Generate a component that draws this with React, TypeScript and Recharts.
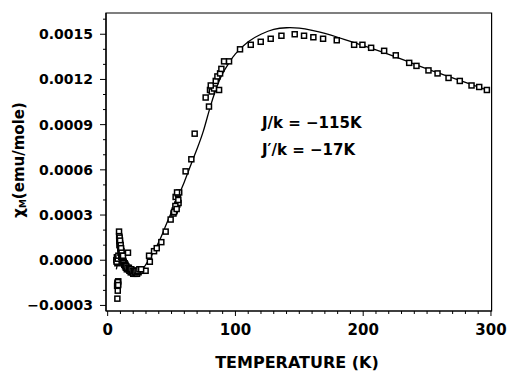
import {
  ComposedChart,
  Line,
  Scatter,
  XAxis,
  YAxis,
  ReferenceArea,
} from "recharts";

// measured susceptibility (open squares)
const MEASURED_T = [
  7.6, 7.9, 7.8, 8.1, 8.3, 7.4, 7.7, 8.0, 8.2, 6.8, 7.2, 7.6, 7.0, 7.9, 8.4,
  8.9, 9.0, 9.3, 9.5, 9.2, 9.8, 10.1, 10.4, 10.0, 10.8, 11.1, 10.6, 11.5, 11.9,
  9.1, 9.4, 9.7, 9.9, 10.2, 10.5, 10.9, 11.3, 11.7, 12.1, 12.6, 13.3, 14.0,
  12.3, 12.0, 13.0, 13.6, 14.2, 15.0, 15.9, 16.2, 17.0, 18.0, 19.0, 20.0, 21.0,
  22.0, 23.0, 24.2, 25.5, 27.0, 29.7,
  14.6, 15.5, 16.6, 17.5, 18.5, 19.5, 20.5, 21.5, 22.5, 23.5, 24.8, 26.2,
  33.0, 32.4, 36.3, 38.4, 42.0, 45.4, 49.3,
  51.5, 52.5, 53.5, 54.5, 55.5, 53.2, 55.0, 56.0, 54.3, 52.0, 53.0, 54.0, 55.3,
  61.0, 65.5, 68.1, 76.7, 79.3, 80.1, 81.5, 83.3, 87.2, 80.7, 84.6, 85.9, 88.0,
  89.0, 91.1, 95.0, 103.6, 112.0, 119.8, 127.6, 136.0, 146.4, 153.7, 161.0,
  168.6, 179.3, 192.9, 199.4, 206.2, 216.4, 225.5, 236.0, 241.7, 251.1, 258.2,
  266.8, 275.6, 284.8, 290.8, 296.8,
];
const MEASURED_CHI = [
  -0.000255, -0.000202, -0.00015, -0.00016, -0.00014, -0.00017, -0.000155, -0.000145, -0.000165, 0.0, 0.00002, -0.00002, -0.00001, 0.00001, 0.00003,
  0.00019, 0.00016, 0.00014, 0.00012, 0.0001, 0.00011, 0.00009, 0.00007, 0.00005, 0.00006, 0.00004, 0.00002, 0.00002, 0.0,
  0.00013, 0.00015, 0.00013, 0.00008, 0.0001, 0.00008, 0.00005, 0.00003, 0.00001, -0.00001, -0.00001, -0.00002, -0.00003,
  -0.00002, 0.00003, -0.00003, -0.00004, -0.00005, -0.00006, 0.00005, -0.00006, -0.00007, -0.00008, -0.00008, -0.00009, -0.00009,
  -0.00009, -0.00009, -0.00008, -0.00007, -0.00007, -0.00007,
  -0.00004, -0.00005, -0.00005, -0.00006, -0.00006, -0.00007, -0.00007, -0.00008, -0.00007, -0.00007, -0.00006, -0.00006,
  -0.00001, 0.00003, 0.00006, 0.00008, 0.00012, 0.00019, 0.00027,
  0.00031, 0.00033, 0.00035, 0.00037, 0.00038, 0.00042, 0.00044, 0.00045, 0.00045, 0.00032, 0.00036, 0.00034, 0.0004,
  0.00059, 0.00067, 0.00084, 0.00108, 0.00102, 0.00113, 0.00112, 0.00114, 0.00113, 0.00116, 0.00119, 0.00122, 0.00124,
  0.00127, 0.00132, 0.00132, 0.0014, 0.00143, 0.00145, 0.00147, 0.00149, 0.0015, 0.00149, 0.00148,
  0.00147, 0.00146, 0.00143, 0.00143, 0.00141, 0.00139, 0.00136, 0.00131, 0.00129, 0.00126, 0.00124,
  0.00121, 0.00119, 0.00116, 0.00115, 0.00113,
];

// fitted curve (solid line)
const FIT_T = [
  6.8, 8, 9, 10.5, 12, 14, 17, 20, 23, 26, 29, 32, 35, 40, 45, 50, 55, 60, 65, 70,
  75, 80, 85, 90, 95, 100, 110, 120, 130, 140, 150, 160, 170, 180, 190, 200, 210,
  220, 230, 240, 250, 260, 270, 280, 290, 297,
];
const FIT_CHI = [
  -0.00006, -0.00001, 0.00002, 0.00003, 0.00001, -0.00002, -0.00005, -0.00007,
  -0.00008, -0.00007, -0.00004, 0.0, 0.00004, 0.00012, 0.00022, 0.00032, 0.00042,
  0.00052, 0.00063, 0.00074, 0.00086, 0.00101, 0.00114, 0.00124, 0.00131, 0.00137,
  0.00145, 0.0015, 0.001532, 0.001543, 0.00154, 0.001525, 0.001505, 0.00148, 0.001452,
  0.001425, 0.001397, 0.001367, 0.001335, 0.001302, 0.00127, 0.00124, 0.00121, 0.00118,
  0.00115, 0.00113,
];

const X_TICKS = [
  0, 10, 20, 30, 40, 50, 60, 70, 80, 90, 100, 110, 120, 130, 140, 150, 160, 170,
  180, 190, 200, 210, 220, 230, 240, 250, 260, 270, 280, 290, 300,
];
const X_LABELS = [0, 100, 200, 300];
const Y_TICKS = [
  -0.0003, -0.0002, -0.0001, 0, 0.0001, 0.0002, 0.0003, 0.0004, 0.0005, 0.0006,
  0.0007, 0.0008, 0.0009, 0.001, 0.0011, 0.0012, 0.0013, 0.0014, 0.0015, 0.0016,
];
const Y_LABELS = [-0.0003, 0, 0.0003, 0.0006, 0.0009, 0.0012, 0.0015];

const X_DOMAIN = [-1.3, 300.5];
const Y_DOMAIN = [-0.000337, 0.001641];

const measured = MEASURED_T.map((t, i) => ({ t, chi: MEASURED_CHI[i] }));
const fit = FIT_T.map((t, i) => ({ t, chi: FIT_CHI[i] }));

const FONT = "'DejaVu Sans', sans-serif";

const isLabel = (list: number[], v: number) =>
  list.some((l) => Math.abs(l - v) < 1e-9);

const XTick = (props: any) => {
  const { x, y, payload } = props;
  const major = isLabel(X_LABELS, payload.value);
  return (
    <g>
      <line x1={x} y1={y} x2={x} y2={y + (major ? 5 : 3)} stroke="#000" strokeWidth={1} />
      {major && (
        <text x={x} y={y + 24} textAnchor="middle" fontFamily={FONT} fontWeight="bold" fontSize={15} fill="#000">
          {payload.value}
        </text>
      )}
    </g>
  );
};

const fmtY = (v: number) => {
  const s = Math.abs(v).toFixed(4);
  return v < -1e-9 ? "\u2212" + s : s;
};

const YTick = (props: any) => {
  const { x, y, payload } = props;
  const major = isLabel(Y_LABELS, payload.value);
  return (
    <g>
      <line x1={x} y1={y} x2={x - (major ? 6 : 3)} y2={y} stroke="#000" strokeWidth={1} />
      {major && (
        <text x={x - 13} y={y} dy="0.36em" textAnchor="end" fontFamily={FONT} fontWeight="bold" fontSize={14} fill="#000">
          {fmtY(payload.value)}
        </text>
      )}
    </g>
  );
};

const Square = (props: any) => {
  const { cx, cy } = props;
  return (
    <rect x={cx - 2.5} y={cy - 2.5} width={5} height={5} fill="#fff" stroke="#000" strokeWidth={1.5} />
  );
};

const yTitle = () => (
  <text
    x={19}
    y={160}
    transform="rotate(-90 19 160)"
    textAnchor="middle"
    dominantBaseline="central"
    fontFamily={FONT}
    fontWeight="bold"
    fontSize={15}
    fill="#000"
  >
    χ<tspan fontSize={9} dy={4}>M</tspan>
    <tspan dy={-4}>(emu/mole)</tspan>
  </text>
);

const xTitle = () => (
  <text x={297} y={368} textAnchor="middle" fontFamily={FONT} fontWeight="bold" fontSize={16} fill="#000">
    TEMPERATURE (K)
  </text>
);

const annotation = () => (
  <g fontFamily={FONT} fontWeight="bold" fontSize={15} fill="#000">
    <text x={262} y={128}>J/k = −115K</text>
    <text x={262} y={155}>J′/k = −17K</text>
  </g>
);

export default function App() {
  return (
    <div style={{ position: "absolute", left: 0, top: 0, background: "#fff" }}>
      <ComposedChart
        width={508}
        height={373}
        margin={{ top: 13, right: 16.4, bottom: 0, left: 46 }}
      >
        <XAxis
          dataKey="t"
          type="number"
          domain={X_DOMAIN}
          ticks={X_TICKS}
          interval={0}
          tick={<XTick />}
          tickLine={false}
          tickSize={0}
          tickMargin={0}
          height={62}
          axisLine={{ stroke: "#000", strokeWidth: 1.2 }}
          label={xTitle}
        />
        <YAxis
          type="number"
          domain={Y_DOMAIN}
          ticks={Y_TICKS}
          interval={0}
          tick={<YTick />}
          tickLine={false}
          tickSize={0}
          tickMargin={0}
          width={60}
          axisLine={{ stroke: "#000", strokeWidth: 1.2 }}
          label={yTitle}
        />
        <ReferenceArea
          x1={X_DOMAIN[0]}
          x2={X_DOMAIN[1]}
          y1={Y_DOMAIN[0]}
          y2={Y_DOMAIN[1]}
          fill="none"
          fillOpacity={0}
          stroke="#000"
          strokeWidth={1.2}
          ifOverflow="visible"
          label={annotation}
        />
        <Scatter data={measured} dataKey="chi" shape={<Square />} isAnimationActive={false} />
        <Line
          data={fit}
          dataKey="chi"
          type="natural"
          stroke="#000"
          strokeWidth={1.3}
          dot={false}
          activeDot={false}
          isAnimationActive={false}
        />
      </ComposedChart>
    </div>
  );
}
